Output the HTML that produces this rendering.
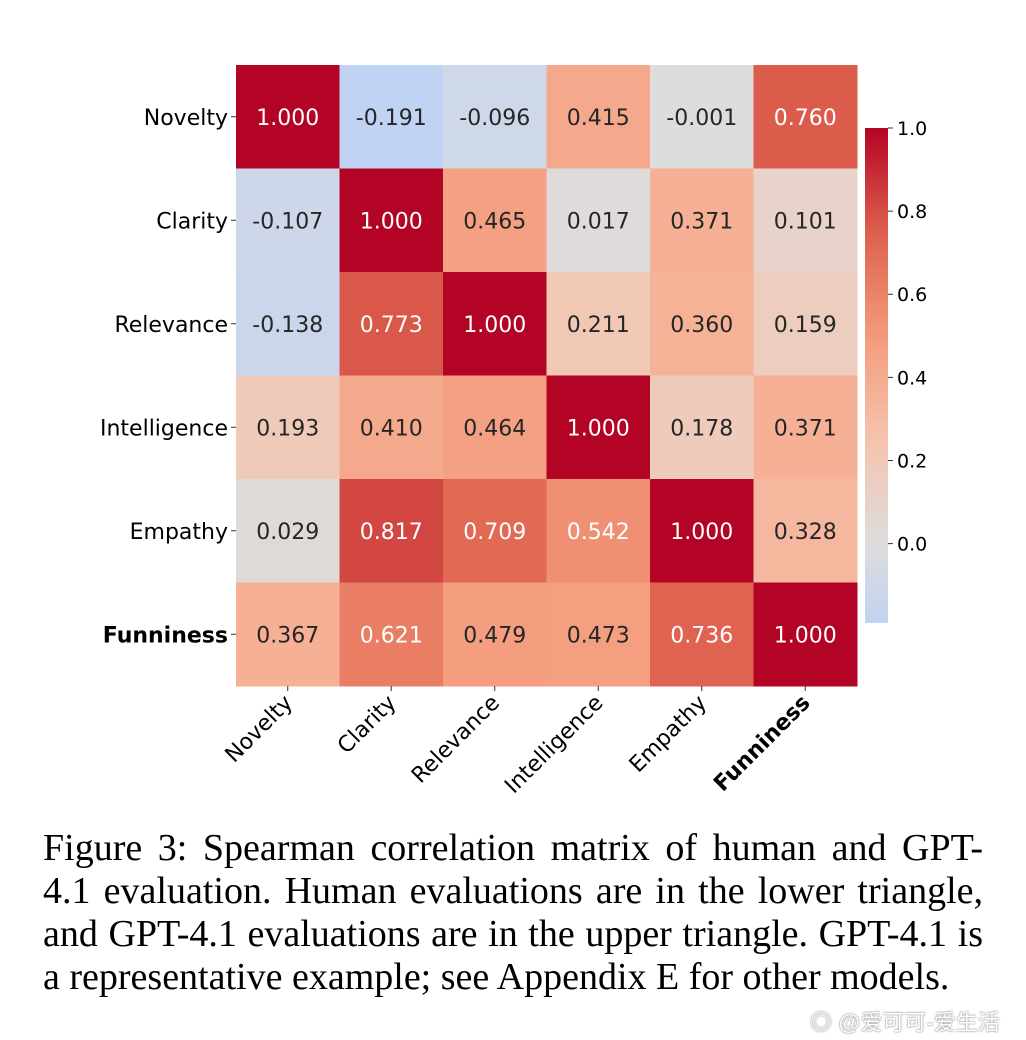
<!DOCTYPE html>
<html><head><meta charset="utf-8"><style>
body{margin:0;background:#fff;width:1026px;height:1040px;overflow:hidden;position:relative}
.cap{position:absolute;left:43px;top:827px;width:940px;font-family:"Liberation Serif",serif;font-size:38px;line-height:43px;color:#000}
.cap div{text-align:justify;text-align-last:justify;white-space:nowrap}
.cap div.last{text-align-last:left}
.wm{position:absolute;left:810px;top:1005px;font-family:"Liberation Sans","Noto Sans CJK SC",sans-serif;font-size:22px;color:#fff;text-shadow:0 0 2px #888,0 0 1px #888}
</style></head><body>
<svg id="chart" width="1026" height="820" style="position:absolute;left:0;top:0" font-family="DejaVu Sans, sans-serif"></svg>
<div class="cap">
<div>Figure 3: Spearman correlation matrix of human and GPT-</div>
<div>4.1 evaluation. Human evaluations are in the lower triangle,</div>
<div>and GPT-4.1 evaluations are in the upper triangle. GPT-4.1 is</div>
<div class="last">a representative example; see Appendix E for other models.</div>
</div>
<div class="wm">◎ @爱可可-爱生活</div>
<script>
const labels=["Novelty","Clarity","Relevance","Intelligence","Empathy","Funniness"];
const row0=[1.000,-0.191,-0.096,0.415,-0.001,0.760];
const row1=[-0.107,1.000,0.465,0.017,0.371,0.101];
const row2=[-0.138,0.773,1.000,0.211,0.360,0.159];
const row3=[0.193,0.410,0.464,1.000,0.178,0.371];
const row4=[0.029,0.817,0.709,0.542,1.000,0.328];
const row5=[0.367,0.621,0.479,0.473,0.736,1.000];
const matrix=[row0,row1,row2,row3,row4,row5];
const cbTicks=[0.0,0.2,0.4,0.6,0.8,1.0];
const cbMin=-0.191, cbMax=1.0;

const svg=document.getElementById('chart');
const NS="http://www.w3.org/2000/svg";
const X0=236,Y0=65,CW=103.5,CH=103.5;
const anchors=[[59,76,192],[98,130,234],[141,176,254],[184,208,249],[221,221,221],[245,196,173],[244,154,123],[222,96,77],[180,4,38]];
function color(v){let t=(v+1)/2;t=Math.max(0,Math.min(1,t));const p=t*8;const i=Math.min(7,Math.floor(p));const f=p-i;const a=anchors[i],b=anchors[i+1];return `rgb(${a.map((c,k)=>Math.round(c+(b[k]-c)*f)).join(',')})`;}
function xs(j){return X0+j*CW;}
function ys(i){return Y0+i*CH;}
function mk(tag,attrs,txt){const e=document.createElementNS(NS,tag);for(const k in attrs)e.setAttribute(k,attrs[k]);if(txt!==undefined)e.textContent=txt;svg.appendChild(e);return e;}
matrix.forEach((row,i)=>row.forEach((v,j)=>{
 const r=mk('rect',{x:xs(j),y:ys(i),width:CW+0.5,height:CH+0.5,fill:color(v)});
 
 
 const t=mk('text',{x:xs(j)+CW/2,y:ys(i)+CH/2+8,'text-anchor':'middle','font-size':22,fill:v>0.5?'#fff':'#262626'},v.toFixed(3));
 
 
}));
labels.forEach((l,i)=>{
 const bold=l==="Funniness";
 mk('line',{x1:xs(0)-5,x2:xs(0),y1:ys(i)+CH/2,y2:ys(i)+CH/2,stroke:'#333'});
 const t=mk('text',{x:xs(0)-8,y:ys(i)+CH/2+8,'text-anchor':'end','font-size':22,'font-weight':bold?'bold':'normal',fill:'#000'},l);
 
 
 const cx=xs(i)+CW/2,cy=Y0+6*CH;
 mk('line',{x1:cx,x2:cx,y1:cy,y2:cy+5,stroke:'#333'});
 const tx=mk('text',{x:cx+6,y:cy+18,'text-anchor':'end','font-size':22,'font-weight':bold?'bold':'normal',fill:'#000',transform:`rotate(-45 ${cx+6} ${cy+18})`},l);
 
 
});
const CBX=865,CBW=23,CBT=128,CBB=623;
function cy(v){return CBB-(v-cbMin)/(cbMax-cbMin)*(CBB-CBT);}
const defs=mk('defs',{});
const g=document.createElementNS(NS,'linearGradient');g.setAttribute('id','cbg');g.setAttribute('x1','0');g.setAttribute('y1','1');g.setAttribute('x2','0');g.setAttribute('y2','0');defs.appendChild(g);
for(let k=0;k<=20;k++){const v=cbMin+(cbMax-cbMin)*k/20;const s=document.createElementNS(NS,'stop');s.setAttribute('offset',k/20);s.setAttribute('stop-color',color(v));g.appendChild(s);}
const cb=mk('rect',{x:CBX,y:CBT,width:CBW,height:CBB-CBT,fill:'url(#cbg)'});


cbTicks.forEach(v=>{
 mk('line',{x1:CBX+CBW,x2:CBX+CBW+5,y1:cy(v),y2:cy(v),stroke:'#333'});
 const t=mk('text',{x:CBX+CBW+9,y:cy(v)+7,'font-size':19,fill:'#000'},v.toFixed(1));
 
 
});
</script>
</body></html>
